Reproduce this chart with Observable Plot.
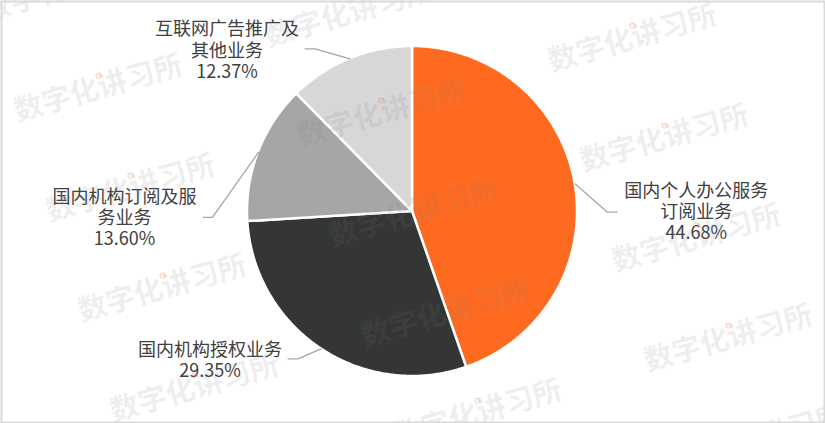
<!DOCTYPE html>
<html>
<head>
<meta charset="utf-8">
<script src="https://cdn.jsdelivr.net/npm/d3@7"></script>
<script src="https://cdn.jsdelivr.net/npm/@observablehq/plot@0.6"></script>
<style>
  html, body { margin: 0; padding: 0; background: #fff; }
  #chart { width: 825px; height: 423px; }
</style>
</head>
<body>
<div id="chart"></div>
<script>
// ---- data ----
const categories = ["国内个人办公服务订阅业务", "国内机构授权业务", "国内机构订阅及服务业务", "互联网广告推广及其他业务"];
const labelTexts = ["国内个人办公服务\n订阅业务", "国内机构授权业务", "国内机构订阅及服\n务业务", "互联网广告推广及\n其他业务"];
const shares = [44.68, 29.35, 13.60, 12.37];
const sliceColors = ["#FF6A21", "#343636", "#A6A6A6", "#D7D7D7"];
const watermarkText = "数字化讲习所";

// ---- layout ----
const W = 825, H = 423, CX = 412, CY = 211, R = 165;
// leader/label offsets in pixels relative to slice mid-point on the rim
const leaderLayout = [
  {elbow: [32, 28],  end: [42, 28],  label: [121, 27]},
  {elbow: [-23, 10], end: [-33, 10], label: [-111, 11]},
  {elbow: [-46, 65], end: [-55, 65], label: [-134, 65]},
  {elbow: [-35, -10], end: [-45, -10], label: [-123, -9]}
];
const px = (dx, dy) => [dx / R, -dy / R];

const total = d3.sum(shares);
let acc = 0;
const slices = categories.map((c, i) => {
  const a0 = acc / total * 2 * Math.PI;
  acc += shares[i];
  const a1 = acc / total * 2 * Math.PI;
  return {cat: c, i, a0, a1, mid: (a0 + a1) / 2};
});

// wedge outlines (arc sampled finely), area closed against the centre
const wedgeRows = [];
for (const s of slices) {
  const n = Math.max(2, Math.ceil((s.a1 - s.a0) / (Math.PI / 360)));
  for (let k = 0; k <= n; k++) {
    const a = s.a0 + (s.a1 - s.a0) * k / n;
    wedgeRows.push({cat: s.cat, x: Math.sin(a), y: Math.cos(a), x0: 0, y0: 0});
  }
}

// leader lines
const leaderRows = [];
const labelRows = [];
for (const s of slices) {
  const mx = Math.sin(s.mid), my = Math.cos(s.mid);
  const L = leaderLayout[s.i];
  const e = px(...L.elbow), en = px(...L.end), lb = px(...L.label);
  leaderRows.push({cat: s.cat, x: mx, y: my});
  leaderRows.push({cat: s.cat, x: mx + e[0], y: my + e[1]});
  leaderRows.push({cat: s.cat, x: mx + en[0], y: my + en[1]});
  labelRows.push({x: mx + lb[0], y: my + lb[1],
    text: labelTexts[s.i] + "\n" + d3.format(".2f")(shares[s.i]) + "%"});
}

// watermark tiling (decoration)
const wm = [];
for (let i = -2; i <= 4; i++) {
  for (let j = -1; j <= 3; j++) {
    const x = 98 + 32 * i + 283 * j, y = 88 + 100 * i + 25 * j;
    if (x > -120 && x < W + 110 && y > -50 && y < H + 50) {
      wm.push({x: (x - CX) / R, y: (CY - y) / R});
    }
  }
}

const font = "'Noto Sans CJK SC', 'Microsoft YaHei', sans-serif";

const chart = Plot.plot({
  width: W,
  height: H,
  margin: 0,
  style: {fontFamily: font, background: "#fff", overflow: "hidden"},
  x: {domain: [-CX / R, (W - CX) / R], axis: null},
  y: {domain: [-(H - CY) / R, CY / R], axis: null},
  color: {type: "categorical", domain: categories, range: sliceColors},
  marks: [
    Plot.area(wedgeRows, {x1: "x", y1: "y", x2: "x0", y2: "y0", z: "cat", fill: "cat",
      stroke: "#fff", strokeWidth: 2.5, strokeLinejoin: "round", curve: "linear"}),
    Plot.line(leaderRows, {x: "x", y: "y", z: "cat", stroke: "#A6A6A6", strokeWidth: 1.3, curve: "linear"}),
    Plot.text(labelRows, {x: "x", y: "y", text: "text", fontSize: 18, fill: "#404040",
      lineHeight: 1.17, textAnchor: "middle", lineAnchor: "middle", fontFamily: font}),
    Plot.text(wm, {x: "x", y: "y", text: () => watermarkText, rotate: -16, fontSize: 29,
      fontWeight: 700, fill: "#7a7a7a", fillOpacity: 0.12, fontFamily: font}),
    Plot.dot(wm, {x: "x", y: "y", dx: 0, dy: -13, r: 2.5, stroke: "#F07A3A", strokeOpacity: 0.3, fill: "none", strokeWidth: 1.2}),
    Plot.frame({stroke: "#D9D9D9", strokeWidth: 2, inset: 1})
  ]
});
document.getElementById("chart").appendChild(chart);
</script>
</body>
</html>
